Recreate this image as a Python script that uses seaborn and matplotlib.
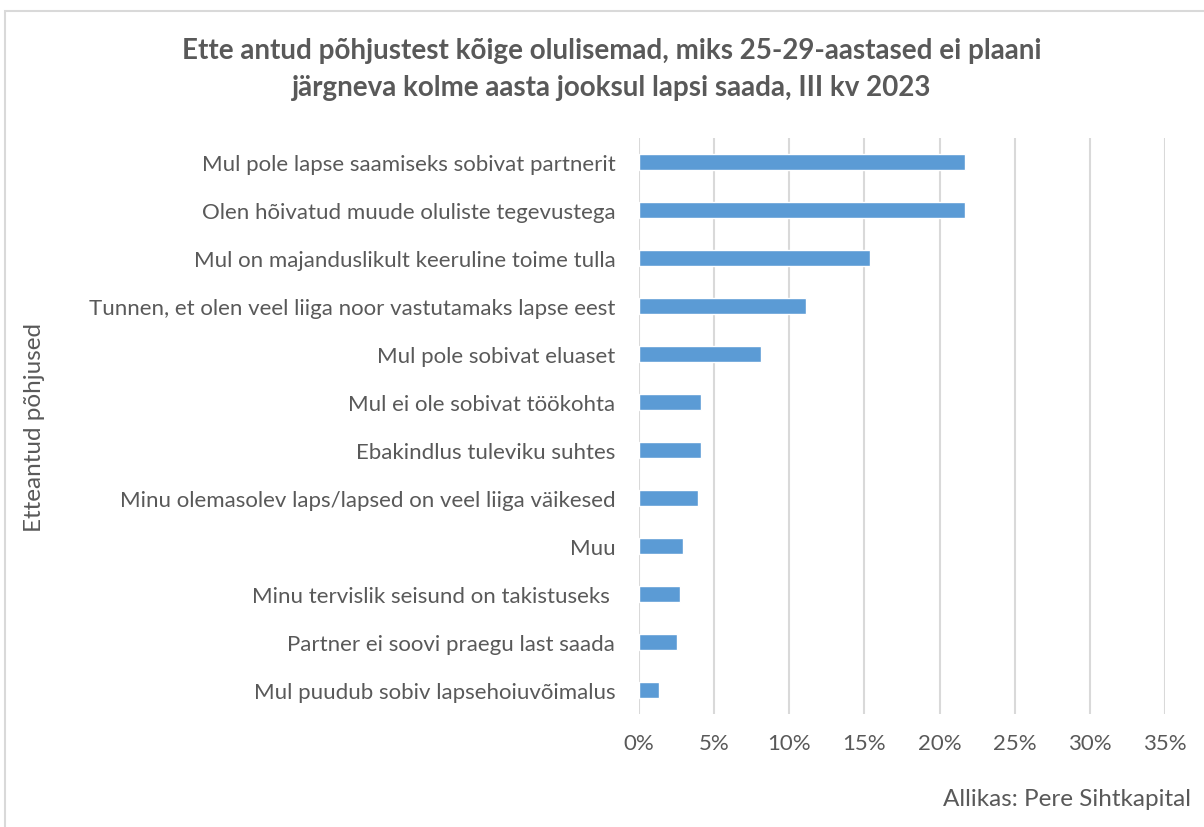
import matplotlib
matplotlib.use("Agg")
import matplotlib.pyplot as plt
import seaborn as sns
import pandas as pd
from matplotlib.patches import Rectangle

categories = [
    "Mul pole lapse saamiseks sobivat partnerit",
    "Olen hõivatud muude oluliste tegevustega",
    "Mul on majanduslikult keeruline toime tulla",
    "Tunnen, et olen veel liiga noor vastutamaks lapse eest",
    "Mul pole sobivat eluaset",
    "Mul ei ole sobivat töökohta",
    "Ebakindlus tuleviku suhtes",
    "Minu olemasolev laps/lapsed on veel liiga väikesed",
    "Muu",
    "Minu tervislik seisund on takistuseks ",
    "Partner ei soovi praegu last saada",
    "Mul puudub sobiv lapsehoiuvõimalus",
]
values = [21.7, 21.7, 15.4, 11.1, 8.1, 4.1, 4.1, 3.9, 2.9, 2.7, 2.5, 1.3]
xticks = [0, 5, 10, 15, 20, 25, 30, 35]

title = "Ette antud põhjustest kõige olulisemad, miks 25-29-aastased ei plaani\njärgneva kolme aasta jooksul lapsi saada, III kv 2023"
ylabel = "Etteantud põhjused"
source = "Allikas: Pere Sihtkapital"

sns.set_theme(style="white")
plt.rcParams["font.family"] = ["Lato", "DejaVu Sans"]

df = pd.DataFrame({"cat": categories, "val": values})

fig = plt.figure(figsize=(12.04, 8.28), dpi=100)
ax = fig.add_axes([0.5307, 0.1365, 0.9676 - 0.5307, 0.832 - 0.1365])

sns.barplot(data=df, x="val", y="cat", color="#5B9BD5", width=0.35,
            saturation=1, ax=ax, orient="h")
ax.set_xlim(0, 35)
ax.set_xticks(xticks)
ax.set_xticklabels([f"{t}%" for t in xticks])
ax.xaxis.grid(True, color="#D9D9D9", linewidth=1.5)
ax.set_axisbelow(True)
for s in ax.spines.values():
    s.set_visible(False)
ax.tick_params(axis="both", length=0, colors="#595959", labelsize=16)
ax.tick_params(axis="x", pad=14)
ax.tick_params(axis="y", pad=17)
ax.set_ylim(len(categories) - 0.5, -0.5)
ax.set_xlabel("")
ax.set_ylabel("")

fig.text(0.029, 0.484, ylabel, rotation=90, ha="center", va="center",
         fontsize=17.5, color="#595959")
fig.text(0.508, 0.916, title, ha="center", va="center", fontsize=20,
         fontweight="bold", color="#595959", linespacing=1.5)
fig.text(0.989, 0.034, source, ha="right", va="center", fontsize=17.5,
         color="#595959")

fig.patches.append(Rectangle((0.004, -0.01), 1.1, 0.995, transform=fig.transFigure,
                             fill=False, edgecolor="#D9D9D9", linewidth=1.5))

fig.savefig("out.png", dpi=100)
